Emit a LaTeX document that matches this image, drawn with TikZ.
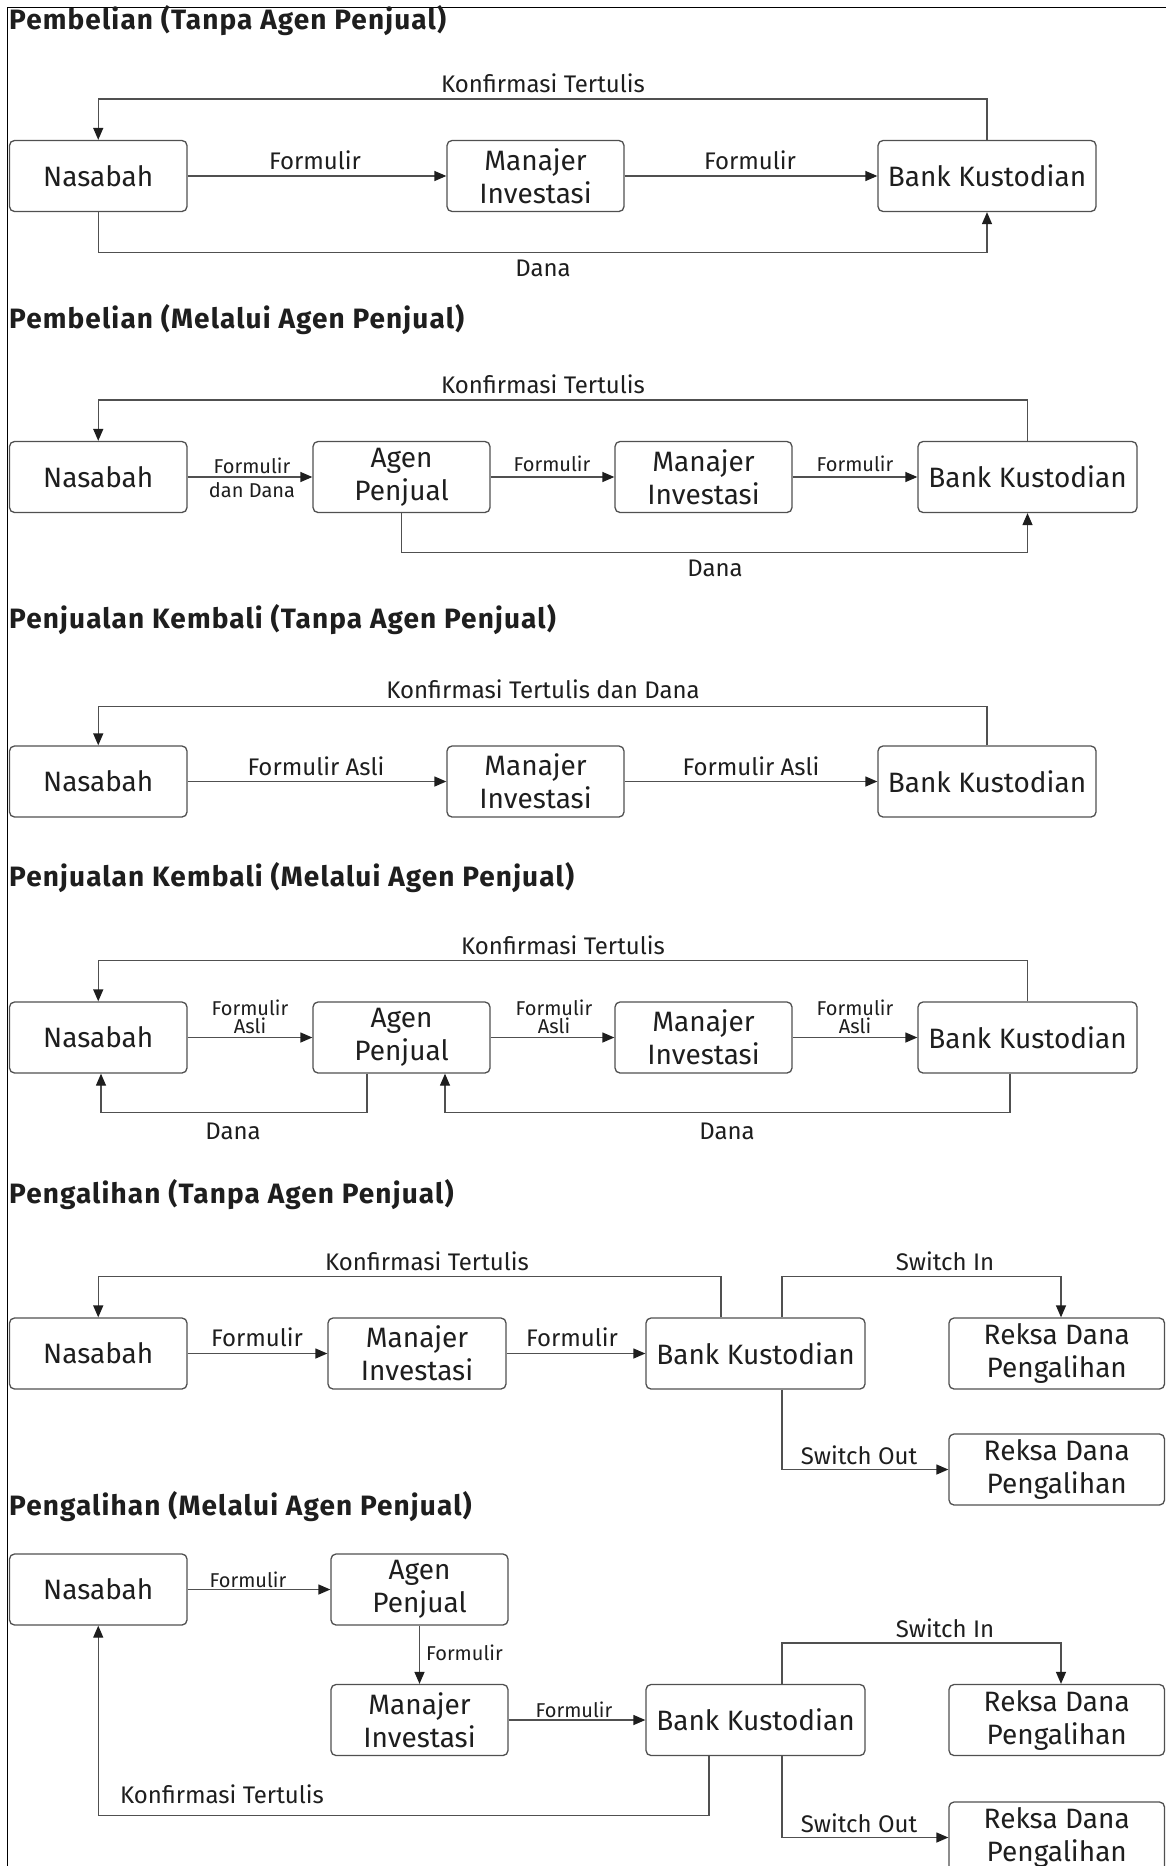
\documentclass[tikz,border=0pt]{standalone}
\usepackage{fontspec}
\setmainfont{Fira Sans}
\newfontfamily\TitleFam[LetterSpace=4]{Fira Sans}
\usetikzlibrary{arrows.meta}
\definecolor{linec}{HTML}{505050}
\definecolor{txtc}{HTML}{1E1E1E}
\newcommand\NdFont{\fontsize{28}{33}\selectfont}
\newcommand\LbFont{\fontsize{24}{28}\selectfont}
\newcommand\SmFont{\fontsize{20}{18}\selectfont}
\newcommand\TtFont{\TitleFam\fontsize{28}{32}\selectfont\bfseries}
\begin{document}
\begin{tikzpicture}[x=1pt,y=-1pt,
  box/.style={draw=linec, line width=1.3pt, rounded corners=5pt, align=center, text=txtc, font=\NdFont, inner sep=0pt, minimum height=71pt},
  lbl/.style={text=txtc, font=\LbFont, inner sep=0pt, align=center},
  slbl/.style={text=txtc, font=\SmFont, inner sep=0pt, align=center},
  ttl/.style={text=txtc, font=\TtFont, inner sep=0pt, anchor=base west},
  arr/.style={draw=linec, line width=1.3pt, -{Triangle[length=12pt,width=10pt,color=txtc]}}
]
\useasboundingbox[fill=white] (0,0) rectangle (1166,1866);
\draw[line width=1.5pt, black] (7.5,1866) -- (7.5,7.5) -- (1166,7.5);

% ---------- Section 1
\node[ttl] (T1) at (9,29) {Pembelian (Tanpa Agen Penjual)};
\node[box, minimum width=177.5pt] (N1) at (98.25,176) {Nasabah};
\node[box, minimum width=177pt] (M1) at (535.5,176) {Manajer\\Investasi};
\node[box, minimum width=218pt] (B1) at (987,176) {Bank Kustodian};
\draw[arr] (B1.north) -- ++(0,-41) -| (N1.north);
\draw[arr] (N1.east) -- (M1.west);
\draw[arr] (M1.east) -- (B1.west);
\draw[arr] (N1.south) -- ++(0,40) -| (B1.south);
\node[lbl] (L1a) at (543,83) {Konfirmasi Tertulis};
\node[lbl] (L1b) at (315,160) {Formulir};
\node[lbl] (L1c) at (750,160) {Formulir};
\node[lbl] (L1d) at (543,268) {Dana};

% ---------- Section 2
\node[ttl] (T2) at (9,328) {Pembelian (Melalui Agen Penjual)};
\node[box, minimum width=177.5pt] (N2) at (98.25,477) {Nasabah};
\node[box, minimum width=177pt] (A2) at (401.5,477) {Agen\\Penjual};
\node[box, minimum width=177pt] (M2) at (703.5,477) {Manajer\\Investasi};
\node[box, minimum width=219pt] (B2) at (1027.5,477) {Bank Kustodian};
\draw[arr] (B2.north) -- ++(0,-41) -| (N2.north);
\draw[arr] (N2.east) -- (A2.west);
\draw[arr] (A2.east) -- (M2.west);
\draw[arr] (M2.east) -- (B2.west);
\draw[arr] (A2.south) -- ++(0,39) -| (B2.south);
\node[lbl] (L2a) at (543,384) {Konfirmasi Tertulis};
\node[slbl] (L2b) at (252,466) {Formulir};
\node[slbl] (L2c) at (252,490) {dan Dana};
\node[slbl] (L2d) at (552,464) {Formulir};
\node[slbl] (L2e) at (855,464) {Formulir};
\node[lbl] (L2f) at (715,568) {Dana};

% ---------- Section 3
\node[ttl] (T3) at (9,628) {Penjualan Kembali (Tanpa Agen Penjual)};
\node[box, minimum width=177.5pt] (N3) at (98.25,781.5) {Nasabah};
\node[box, minimum width=177pt] (M3) at (535.5,781.5) {Manajer\\Investasi};
\node[box, minimum width=218pt] (B3) at (987,781.5) {Bank Kustodian};
\draw[arr] (B3.north) -- ++(0,-39) -| (N3.north);
\draw[arr] (N3.east) -- (M3.west);
\draw[arr] (M3.east) -- (B3.west);
\node[lbl] (L3a) at (543,689) {Konfirmasi Tertulis dan Dana};
\node[lbl] (L3b) at (316,766) {Formulir Asli};
\node[lbl] (L3c) at (751,766) {Formulir Asli};

% ---------- Section 4
\node[ttl] (T4) at (9,886) {Penjualan Kembali (Melalui Agen Penjual)};
\node[box, minimum width=177.5pt] (N4) at (98.25,1037.5) {Nasabah};
\node[box, minimum width=177pt] (A4) at (401.5,1037.5) {Agen\\Penjual};
\node[box, minimum width=177pt] (M4) at (703.5,1037.5) {Manajer\\Investasi};
\node[box, minimum width=219pt] (B4) at (1027.5,1037.5) {Bank Kustodian};
\draw[arr] (B4.north) -- ++(0,-41) -| (N4.north);
\draw[arr] (N4.east) -- (A4.west);
\draw[arr] (A4.east) -- (M4.west);
\draw[arr] (M4.east) -- (B4.west);
\draw[arr] ([xshift=-34.5pt]A4.south) -- ++(0,39) -| ([xshift=2.75pt]N4.south);
\draw[arr] ([xshift=-17.5pt]B4.south) -- ++(0,39) -| ([xshift=43.5pt]A4.south);
\node[lbl] (L4a) at (563,945) {Konfirmasi Tertulis};
\node[slbl, anchor=south] (L4b) at (250,1034) {Formulir\\Asli};
\node[slbl, anchor=south] (L4c) at (554,1034) {Formulir\\Asli};
\node[slbl, anchor=south] (L4d) at (855,1034) {Formulir\\Asli};
\node[lbl] (L4e) at (233,1131) {Dana};
\node[lbl] (L4f) at (727,1131) {Dana};

% ---------- Section 5
\node[ttl] (T5) at (9,1203) {Pengalihan (Tanpa Agen Penjual)};
\node[box, minimum width=177.5pt] (N5) at (98.25,1353.5) {Nasabah};
\node[box, minimum width=178pt] (M5) at (417,1353.5) {Manajer\\Investasi};
\node[box, minimum width=219pt] (B5) at (755.5,1353.5) {Bank Kustodian};
\node[box, minimum width=215.5pt] (R5a) at (1056.75,1353.5) {Reksa Dana\\Pengalihan};
\node[box, minimum width=215.5pt] (R5b) at (1056.75,1469.5) {Reksa Dana\\Pengalihan};
\draw[arr] ([xshift=-34.5pt]B5.north) -- ++(0,-41) -| (N5.north);
\draw[arr] ([xshift=26.5pt]B5.north) -- ++(0,-41) -| ([xshift=4.25pt]R5a.north);
\draw[arr] (N5.east) -- (M5.west);
\draw[arr] (M5.east) -- (B5.west);
\draw[arr] ([xshift=26.5pt]B5.south) |- (R5b.west);
\node[lbl] (L5a) at (427,1261) {Konfirmasi Tertulis};
\node[lbl] (L5b) at (945,1261) {Switch In};
\node[lbl] (L5c) at (257,1337) {Formulir};
\node[lbl] (L5d) at (572,1337) {Formulir};
\node[lbl] (L5e) at (859,1455) {Switch Out};

% ---------- Section 6
\node[ttl] (T6) at (9,1515) {Pengalihan (Melalui Agen Penjual)};
\node[box, minimum width=177.5pt] (N6) at (98.25,1589.5) {Nasabah};
\node[box, minimum width=177pt] (A6) at (419.5,1589.5) {Agen\\Penjual};
\node[box, minimum width=177pt] (M6) at (419.5,1720) {Manajer\\Investasi};
\node[box, minimum width=219pt] (B6) at (755.5,1720) {Bank Kustodian};
\node[box, minimum width=215.5pt] (R6a) at (1056.75,1720) {Reksa Dana\\Pengalihan};
\node[box, minimum width=215.5pt] (R6b) at (1056.75,1837.5) {Reksa Dana\\Pengalihan};
\draw[arr] (N6.east) -- (A6.west);
\draw[arr] (A6.south) -- (M6.north);
\draw[arr] (M6.east) -- (B6.west);
\draw[arr] ([xshift=26.5pt]B6.north) -- ++(0,-41) -| ([xshift=4.25pt]R6a.north);
\draw[arr] ([xshift=-46.5pt]B6.south) -- ++(0,59) -| (N6.south);
\draw[arr] ([xshift=26.5pt]B6.south) |- (R6b.west);
\node[slbl] (L6a) at (248,1580) {Formulir};
\node[slbl, anchor=west] (L6b) at (426,1653) {Formulir};
\node[slbl] (L6c) at (574,1710) {Formulir};
\node[lbl] (L6d) at (945,1628) {Switch In};
\node[lbl] (L6e) at (222,1794) {Konfirmasi Tertulis};
\node[lbl] (L6f) at (859,1823) {Switch Out};
\end{tikzpicture}
\end{document}
